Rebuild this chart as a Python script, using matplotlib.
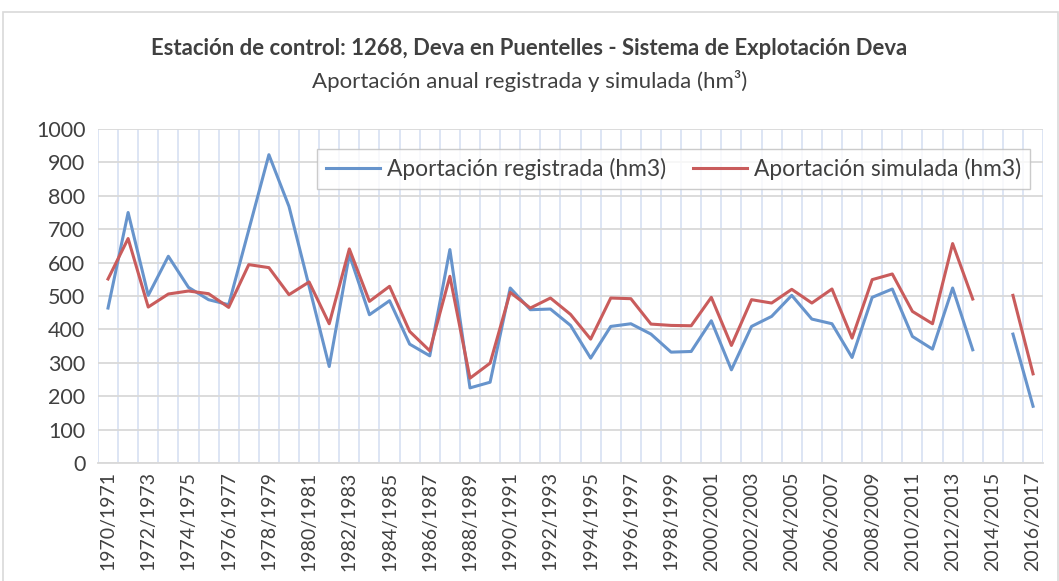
import numpy as np
import matplotlib
matplotlib.use("Agg")
import matplotlib.pyplot as plt
from matplotlib.patches import Rectangle

plt.rcParams["font.family"] = ["Lato", "DejaVu Sans"]

years = [f"{y}/{y + 1}" for y in range(1970, 2017)]

registrada = [464, 750, 502, 619, 526, 489, 474, 698, 923, 768,
              529, 289, 624, 444, 486, 356, 321, 639, 225, 242,
              524, 459, 461, 412, 314, 409, 417, 386, 332, 334,
              426, 279, 409, 439, 502, 431, 417, 316, 496, 521,
              379, 341, 524, 339, np.nan, 386, 170]

simulada = [551, 672, 467, 506, 515, 507, 466, 594, 585, 504,
            542, 417, 641, 484, 529, 394, 336, 559, 254, 299,
            511, 464, 494, 445, 371, 494, 492, 416, 412, 411,
            496, 352, 489, 479, 520, 479, 521, 374, 549, 566,
            454, 417, 657, 491, np.nan, 502, 267]

fig = plt.figure(figsize=(10.59, 5.81), dpi=100)
fig.patches.append(Rectangle((0.003, -0.01), 0.996, 0.99, transform=fig.transFigure,
                             fill=False, edgecolor="#d9d9d9", linewidth=1.2))
ax = fig.add_axes([0.0925, 0.203, 0.8925, 0.575])

x = np.arange(len(years))
ax.plot(x, registrada, color="#6794cc", linewidth=2.2, label="Aportación registrada (hm3)")
ax.plot(x, simulada, color="#c95c5c", linewidth=2.2, label="Aportación simulada (hm3)")

ax.set_xlim(-0.5, len(years) - 0.5)
ax.set_ylim(0, 1000)
ax.set_yticks(range(0, 1001, 100))
ax.set_xticks(x[::2])
ax.set_xticklabels(years[::2], rotation=90, fontsize=14, color="#404040")
ax.set_xticks(np.arange(-0.5, len(years), 1), minor=True)
ax.tick_params(axis="y", labelsize=15.5, labelcolor="#404040", length=0, pad=9)
ax.tick_params(axis="x", which="both", length=0, pad=6)

ax.grid(axis="y", which="major", color="#d9d9d9", linewidth=1.3)
ax.grid(axis="x", which="minor", color="#dae3f3", linewidth=1.3)
ax.set_axisbelow(True)
for s in ["top", "right", "left"]:
    ax.spines[s].set_visible(False)
ax.spines["bottom"].set_color("#d9d9d9")
ax.spines["bottom"].set_linewidth(1.3)

leg = ax.legend(loc="upper right", bbox_to_anchor=(0.9985, 0.974), ncol=2, fontsize=16.4,
                frameon=True, fancybox=False, edgecolor="#bfbfbf", borderpad=0.4,
                handlelength=2.4, handletextpad=0.3, columnspacing=1.15,
                labelcolor="#404040")
leg.get_frame().set_linewidth(1.0)

fig.text(0.5, 0.916, "Estación de control: 1268, Deva en Puentelles - Sistema de Explotación Deva",
         ha="center", va="center", fontsize=15.9, fontweight="bold", color="#404040")
fig.text(0.5, 0.86, "Aportación anual registrada y simulada (hm³)",
         ha="center", va="center", fontsize=16, color="#404040")

fig.savefig("out.png", dpi=100)
